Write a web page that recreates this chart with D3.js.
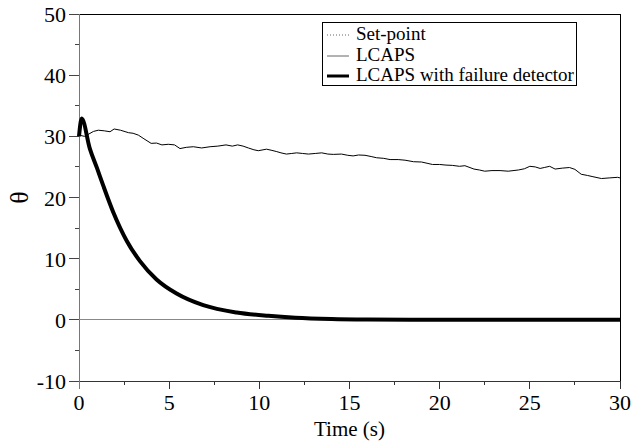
<!DOCTYPE html>
<html><head><meta charset="utf-8">
<script src="https://cdn.jsdelivr.net/npm/d3@7"></script>
<style>body{margin:0;background:#fff}svg{display:block}text{font-family:"Liberation Serif","Times New Roman",serif;fill:#000}</style>
</head><body><div id="chart"></div>
<script>
const seriesNames = ["Set-point", "LCAPS", "LCAPS with failure detector"];
const xTicks = [0, 5, 10, 15, 20, 25, 30];
const yTicks = [-10, 0, 10, 20, 30, 40, 50];
const setpointTime = [0, 30];
const setpointValue = [0, 0];
const lcapsTime = [0, 0.3, 0.5, 0.8, 1.07, 1.4, 1.72, 1.95, 2.3, 2.74, 3.0, 3.29, 3.6, 4.0, 4.3, 4.6, 4.95, 5.3, 5.6, 5.95, 6.34, 6.8, 7.27, 7.7, 8.15, 8.5, 8.8, 9.1, 9.39, 9.7, 9.94, 10.4, 10.7, 10.97, 11.2, 11.5, 11.8, 12.07, 12.4, 12.72, 13.1, 13.46, 13.8, 14.1, 14.56, 14.9, 15.2, 15.5, 15.86, 16.2, 16.5, 16.9, 17.25, 17.7, 18.08, 18.55, 19.0, 19.3, 19.6, 20.0, 20.35, 20.7, 21.1, 21.4, 21.9, 22.2, 22.5, 22.9, 23.35, 23.8, 24.37, 24.7, 25.0, 25.3, 25.57, 25.8, 26.1, 26.4, 26.8, 27.2, 27.5, 27.85, 28.2, 28.5, 28.97, 29.4, 29.87, 30];
const lcapsValue = [30.2, 30.0, 30.3, 30.8, 31.0, 30.9, 30.75, 31.2, 31.0, 30.6, 30.5, 30.2, 29.6, 28.85, 28.9, 28.6, 28.7, 28.6, 28.0, 28.2, 28.3, 28.1, 28.3, 28.4, 28.6, 28.4, 28.6, 28.4, 28.1, 27.8, 27.65, 27.9, 27.7, 27.5, 27.3, 27.1, 27.2, 27.3, 27.2, 27.1, 27.2, 27.3, 27.1, 27.05, 27.1, 26.9, 26.8, 26.95, 26.9, 26.7, 26.5, 26.4, 26.2, 26.2, 26.1, 25.85, 25.8, 25.6, 25.4, 25.4, 25.3, 25.25, 25.1, 25.2, 24.65, 24.5, 24.3, 24.4, 24.4, 24.3, 24.5, 24.7, 25.1, 25.0, 24.75, 24.9, 25.1, 24.65, 24.8, 24.9, 24.6, 23.8, 23.6, 23.4, 23.1, 23.2, 23.3, 23.2];
const detectorTime = [0, 0.15, 0.6, 1.0, 1.35, 1.9, 2.65, 3.38, 4.3, 5.41, 6.89, 8.74, 10.5, 12, 14, 16, 20, 25, 30];
const detectorValue = [30, 32.9, 28.0, 24.8, 21.9, 17.6, 12.9, 9.6, 6.6, 4.3, 2.4, 1.2, 0.65, 0.35, 0.15, 0.07, 0.02, 0, 0];

const W = 635, H = 441;
const m = {left: 79, right: 15, top: 14, bottom: 60};
const svg = d3.select("#chart").append("svg").attr("width", W).attr("height", H);
const x = d3.scaleLinear().domain([0, 30]).range([m.left, W - m.right]);
const y = d3.scaleLinear().domain([-10, 50]).range([H - m.bottom, m.top]);

const line = d3.line().x(d => x(d[0])).y(d => y(d[1]));
const zip = (a, b) => a.map((t, i) => [t, b[i]]);

// frame top/right
svg.append("path").attr("d", `M${x(0)},${y(50)}H${x(30)}V${y(-10)}`).attr("fill", "none").attr("stroke", "#000").attr("stroke-width", 1).attr("shape-rendering", "crispEdges");

// x axis
const gx = svg.append("g").attr("transform", `translate(0,${y(-10)})`);
gx.append("line").attr("x1", x(0)).attr("x2", x(30)).attr("stroke", "#333").attr("shape-rendering", "crispEdges");
gx.selectAll("line.t").data(d3.range(0, 30.01, 2.5)).join("line").attr("class", "t")
  .attr("x1", d => x(d)).attr("x2", d => x(d)).attr("y1", 0).attr("y2", d => d % 5 === 0 ? 8 : 4)
  .attr("stroke", "#333").attr("shape-rendering", "crispEdges");
gx.selectAll("text").data(xTicks).join("text").attr("x", d => x(d)).attr("y", 29)
  .attr("text-anchor", "middle").attr("font-size", 22).text(d => d);

// y axis
const gy = svg.append("g").attr("transform", `translate(${x(0)},0)`);
gy.append("line").attr("y1", y(50)).attr("y2", y(-10) + 8).attr("stroke", "#777").attr("shape-rendering", "crispEdges");
gy.selectAll("line.t").data(d3.range(-10, 50.01, 5)).join("line").attr("class", "t")
  .attr("y1", d => y(d)).attr("y2", d => y(d)).attr("x1", 0).attr("x2", d => d % 10 === 0 ? -10 : -4)
  .attr("stroke", "#444").attr("shape-rendering", "crispEdges");
gy.selectAll("text").data(yTicks).join("text").attr("x", -13).attr("y", d => y(d) + 8)
  .attr("text-anchor", "end").attr("font-size", 22).text(d => d);

svg.append("text").attr("x", x(15)).attr("y", 436).attr("text-anchor", "middle").attr("font-size", 21).text("Time (s)");
svg.append("text").attr("transform", `translate(28,${y(20)}) rotate(-90)`).attr("text-anchor", "middle").attr("font-size", 26).text("θ");

// series
svg.append("path").attr("d", line(zip(setpointTime, setpointValue))).attr("fill", "none").attr("stroke", "#888").attr("stroke-width", 1).attr("shape-rendering", "crispEdges");
svg.append("path").attr("d", line(zip(lcapsTime, lcapsValue))).attr("fill", "none").attr("stroke", "#000").attr("stroke-width", 1);
svg.append("path").attr("d", line.curve(d3.curveMonotoneX)(zip(detectorTime, detectorValue))).attr("fill", "none").attr("stroke", "#000").attr("stroke-width", 4).attr("stroke-linejoin", "miter");

// legend
const lg = svg.append("g");
lg.append("rect").attr("x", 322.5).attr("y", 22.5).attr("width", 254).attr("height", 63).attr("fill", "#fff").attr("stroke", "#000");
const rows = [{dash: "1,2", w: 1, c: "#666", yb: 40}, {dash: null, w: 1, c: "#666", yb: 61}, {dash: null, w: 3, c: "#000", yb: 81}];
rows.forEach((r, i) => {
  lg.append("line").attr("x1", 327).attr("x2", 349).attr("y1", r.yb - 5).attr("y2", r.yb - 5)
    .attr("stroke", r.c).attr("stroke-width", r.w).attr("stroke-dasharray", r.dash);
  lg.append("text").attr("x", 356).attr("y", r.yb).attr("font-size", 19).text(seriesNames[i]);
});
</script></body></html>
